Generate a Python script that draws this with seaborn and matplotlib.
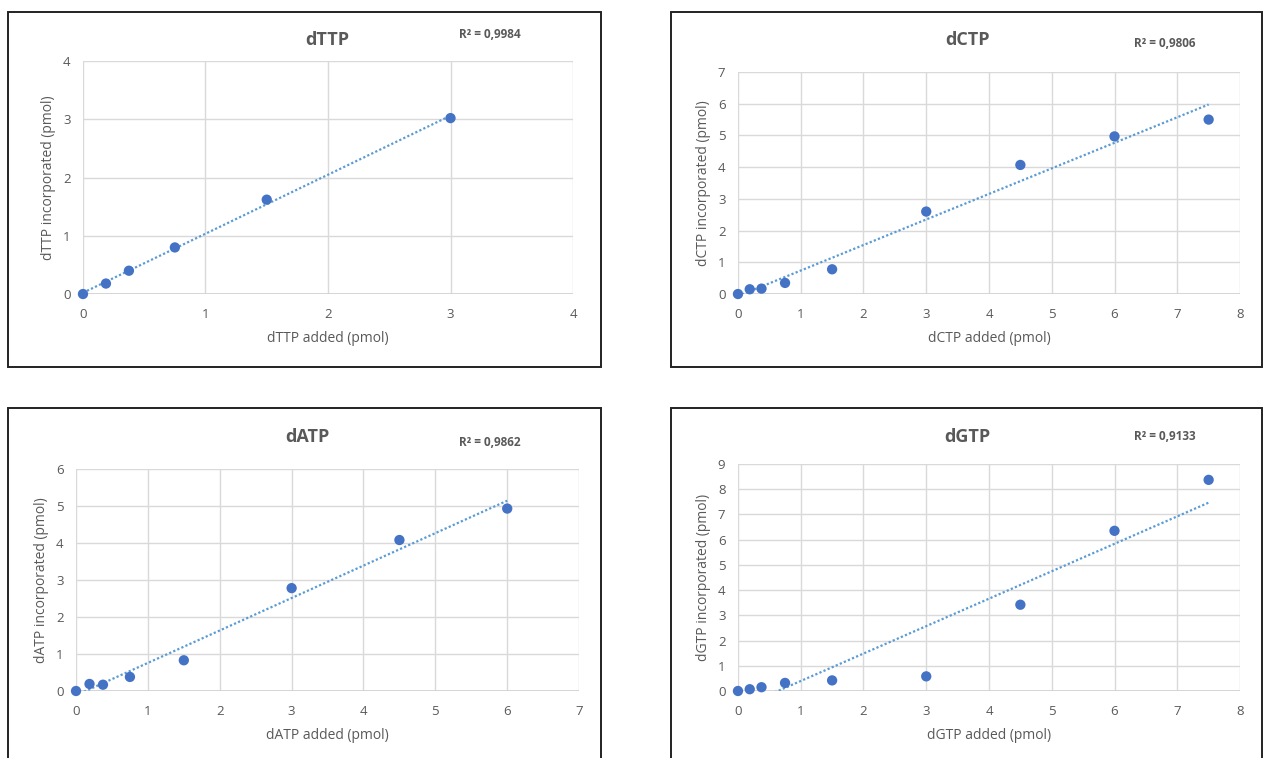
import numpy as np
import pandas as pd
import seaborn as sns
import matplotlib.pyplot as plt
from matplotlib.patches import Rectangle

# === Data ===
nucleotides = ["dTTP", "dCTP", "dATP", "dGTP"]

x_dttp = [0, 0.1875, 0.375, 0.75, 1.5, 3]
y_dttp = [0, 0.18, 0.40, 0.80, 1.62, 3.02]

x_dctp = [0, 0.1875, 0.375, 0.75, 1.5, 3, 4.5, 6, 7.5]
y_dctp = [0, 0.15, 0.17, 0.35, 0.78, 2.60, 4.07, 4.97, 5.50]

x_datp = [0, 0.1875, 0.375, 0.75, 1.5, 3, 4.5, 6]
y_datp = [0, 0.19, 0.17, 0.38, 0.83, 2.78, 4.08, 4.93]

x_dgtp = [0, 0.1875, 0.375, 0.75, 1.5, 3, 4.5, 6, 7.5]
y_dgtp = [0, 0.07, 0.15, 0.32, 0.42, 0.58, 3.42, 6.35, 8.37]

r2_labels = ["R² = 0,9984", "R² = 0,9806", "R² = 0,9862", "R² = 0,9133"]
x_max = [4, 8, 7, 8]
y_max = [4, 7, 6, 9]

series = [(x_dttp, y_dttp), (x_dctp, y_dctp), (x_datp, y_datp), (x_dgtp, y_dgtp)]

# === Layout (figure fractions) ===
axes_pos = [
    [0.0657, 0.6121, 0.3880, 0.3074],
    [0.5843, 0.6121, 0.3975, 0.2929],
    [0.0602, 0.0884, 0.3983, 0.2929],
    [0.5843, 0.0884, 0.3975, 0.2995],
]
frames = [
    (0.0063, 0.5158, 0.4696, 0.4684),
    (0.5313, 0.5158, 0.4680, 0.4684),
    (0.0063, -0.05, 0.4696, 0.5117),
    (0.5313, -0.05, 0.4680, 0.5117),
]
title_xy = [(0.259, 0.947), (0.766, 0.947), (0.243, 0.4235), (0.766, 0.4235)]
r2_xy = [(0.388, 0.954), (0.922, 0.942), (0.388, 0.4156), (0.922, 0.4248)]

# === Style ===
sns.set_style("whitegrid", {"grid.color": "#d9d9d9", "axes.edgecolor": "#d9d9d9"})
plt.rcParams["font.family"] = ["Open Sans", "DejaVu Sans"]

blue = "#4472c4"
text_grey = "#595959"

fig = plt.figure(figsize=(12.63, 7.58), dpi=100)

for i, name in enumerate(nucleotides):
    xs, ys = series[i]
    df = pd.DataFrame({"added": xs, "incorporated": ys})
    ax = fig.add_axes(axes_pos[i])

    # linear trendline
    sns.regplot(data=df, x="added", y="incorporated", ax=ax, scatter=False, ci=None,
                truncate=True, color="#5b9bd5",
                line_kws={"linestyle": (0, (1, 1)), "linewidth": 1.6})
    sns.scatterplot(data=df, x="added", y="incorporated", ax=ax, color=blue,
                    s=55, edgecolor="none", zorder=3, clip_on=False)

    ax.set_xlim(0, x_max[i])
    ax.set_ylim(0, y_max[i])
    ax.set_xticks(range(0, x_max[i] + 1))
    ax.set_yticks(range(0, y_max[i] + 1))
    ax.tick_params(length=0, labelsize=9.5, colors=text_grey)
    ax.tick_params(axis="x", pad=10)
    ax.tick_params(axis="y", pad=9)
    for s in ax.spines.values():
        s.set_visible(False)
    ax.grid(True, color="#d9d9d9", linewidth=1)
    ax.axhline(0, color="#d0d0d0", linewidth=1.2, zorder=1)
    ax.set_xlabel(f"{name} added (pmol)", fontsize=10, color=text_grey, labelpad=7)
    ax.set_ylabel(f"{name} incorporated (pmol)", fontsize=10, color=text_grey, labelpad=5)

    fig.text(*title_xy[i], name, ha="center", va="center", fontsize=13,
             fontweight="bold", color=text_grey)
    fig.text(*r2_xy[i], r2_labels[i], ha="center", va="center", fontsize=8.5,
             fontweight="bold", color=text_grey)

    fx, fy, fw, fh = frames[i]
    fig.patches.append(Rectangle((fx, fy), fw, fh, transform=fig.transFigure,
                                 fill=False, edgecolor="#222222", linewidth=1.4))

fig.savefig("out.png", dpi=100)
